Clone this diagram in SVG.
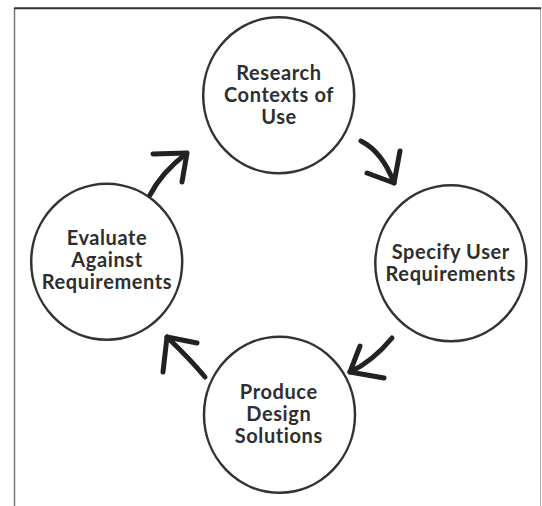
<svg xmlns="http://www.w3.org/2000/svg" width="542" height="506" viewBox="0 0 542 506">
<style>
.node ellipse{fill:#fff;stroke:#333;stroke-width:2.5}
.node text{font-family:Lato,"Liberation Sans",sans-serif;font-weight:700;font-size:20px;letter-spacing:0.6px;fill:#2e2e2e;text-anchor:middle}
.conn path{fill:none;stroke:#222;stroke-width:5;stroke-linecap:round;stroke-linejoin:round}
</style>
<rect width="542" height="506" fill="#fff"/>
<g id="frame" fill="none">
<line x1="14.5" y1="8" x2="14.5" y2="506" stroke="#777" stroke-width="1.5"/>
<line x1="540.5" y1="8" x2="540.5" y2="506" stroke="#aaa" stroke-width="1"/>
<line x1="14" y1="8.3" x2="541" y2="8.3" stroke="#333" stroke-width="2"/>
</g>
<g id="node-research" class="node">
<ellipse cx="278.7" cy="95.3" rx="75.5" ry="78"/>
<text x="279" y="80">Research</text>
<text x="279" y="102">Contexts of</text>
<text x="279" y="124">Use</text>
</g>
<g id="node-specify" class="node">
<ellipse cx="450.8" cy="263.3" rx="75.5" ry="78"/>
<text x="450.8" y="258.5">Specify User</text>
<text x="450.8" y="280.5">Requirements</text>
</g>
<g id="node-produce" class="node">
<ellipse cx="279.5" cy="414.7" rx="75.5" ry="78"/>
<text x="278.8" y="399">Produce</text>
<text x="278.8" y="421">Design</text>
<text x="278.8" y="443">Solutions</text>
</g>
<g id="node-evaluate" class="node">
<ellipse cx="106.7" cy="261.7" rx="75.5" ry="78"/>
<text x="107" y="245">Evaluate</text>
<text x="107" y="267">Against</text>
<text x="107" y="289">Requirements</text>
</g>
<g id="connectors" class="conn">
<path d="M361,141 Q382.5,152 394,183"/>
<path d="M400,151 L394,183 L367,173"/>
<path d="M392,338 Q372.4,361.6 350,372"/>
<path d="M360,346 L350,372 L384,378"/>
<path d="M205,377 Q190.6,359.6 167,337"/>
<path d="M197,343 L167,337 L163,372"/>
<path d="M150,195 Q161.6,172.5 186.7,153.3"/>
<path d="M153,154 L187,153 L182,182"/>
</g>
</svg>
